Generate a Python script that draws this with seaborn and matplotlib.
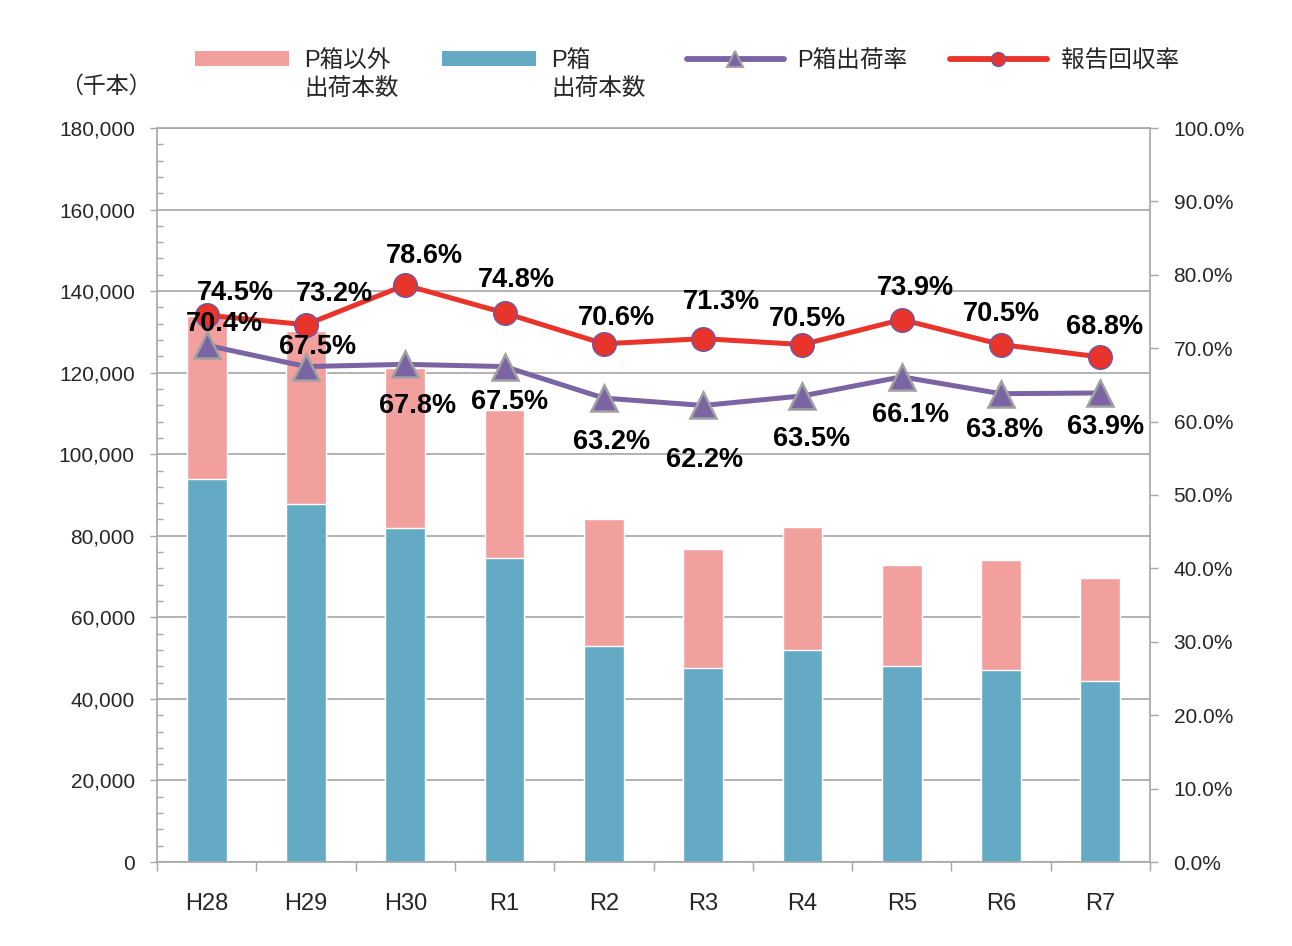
import numpy as np
import pandas as pd
import matplotlib
matplotlib.use('Agg')
import matplotlib.pyplot as plt
import seaborn as sns
from matplotlib.lines import Line2D
from matplotlib.patches import Patch
from matplotlib.ticker import MultipleLocator, FuncFormatter

# data
years = ['H28', 'H29', 'H30', 'R1', 'R2', 'R3', 'R4', 'R5', 'R6', 'R7']
p_box = [93900, 87800, 81900, 74500, 53000, 47600, 52000, 48100, 47100, 44400]        # P箱 出荷本数 (千本)
non_p_box = [40000, 42400, 39200, 36300, 31100, 29200, 30150, 24700, 27000, 25250]    # P箱以外 出荷本数 (千本)
p_box_rate = [70.4, 67.5, 67.8, 67.5, 63.2, 62.2, 63.5, 66.1, 63.8, 63.9]            # P箱出荷率 (%)
return_rate = [74.5, 73.2, 78.6, 74.8, 70.6, 71.3, 70.5, 73.9, 70.5, 68.8]           # 報告回収率 (%)

# label offsets (pixels) for the percentage labels
return_offsets = [(29, 22), (28, 31), (19, 29), (12, 33), (13, 26), (18, 37), (5, 26), (14, 32), (0, 31), (4, 30)]
rate_offsets = [(18, 21), (12, 20), (12, -42), (5, -35), (8, -44), (1, -55), (9, -43), (9, -38), (4, -36), (5, -34)]

pink = '#F2A09E'
blue = '#64AAC4'
purple = '#7A64A3'
red = '#E8342A'
grid_grey = '#A6A6A6'

sns.set_theme(style='white')
plt.rcParams['font.family'] = ['Liberation Sans', 'Noto Sans CJK JP']

df = pd.DataFrame({'year': years, 'p': p_box, 'non': non_p_box})
df['total'] = df['p'] + df['non']

fig = plt.figure(figsize=(12.92, 9.46), dpi=100)
ax = fig.add_axes([157 / 1292, 84 / 946, 993 / 1292, 734 / 946])

# stacked bars: total (pink) behind, P箱 (blue) in front
sns.barplot(data=df, x='year', y='total', color=pink, width=0.4, saturation=1,
            errorbar=None, ax=ax, zorder=2)
sns.barplot(data=df, x='year', y='p', color=blue, width=0.4, saturation=1,
            errorbar=None, ax=ax, zorder=2)

ax.set_ylim(0, 180000)
ax.yaxis.set_major_locator(MultipleLocator(20000))
ax.yaxis.set_minor_locator(MultipleLocator(4000))
ax.yaxis.set_major_formatter(FuncFormatter(lambda v, p: f'{v:,.0f}'))
ax.grid(axis='y', which='major', color=grid_grey, linewidth=1.2, zorder=0)
ax.set_axisbelow(True)
ax.set_xlabel('')
ax.set_ylabel('')

for side in ['left', 'bottom', 'top', 'right']:
    ax.spines[side].set_color(grid_grey)
    ax.spines[side].set_linewidth(1.2)
ax.spines['right'].set_visible(False)

ax.tick_params(axis='y', which='major', direction='out', length=5, width=1, color=grid_grey,
               labelsize=15, pad=11, left=True)
ax.tick_params(axis='y', which='minor', direction='in', length=4, width=1, color=grid_grey, left=True)

n = len(years)
ax.set_xticks(range(n))
ax.set_xticklabels(years)
ax.set_xticks(np.arange(-0.5, n), minor=True)
ax.tick_params(axis='x', which='major', length=0, labelsize=17, pad=22)
ax.tick_params(axis='x', which='minor', direction='out', length=6.5, width=1, color=grid_grey, bottom=True)

# rates on the secondary axis
ax2 = ax.twinx()
x_pos = np.arange(n)
sns.lineplot(x=x_pos, y=np.array(p_box_rate) / 100, ax=ax2, color=purple, linewidth=3.6,
             marker='^', markersize=19, markeredgecolor='#A0A0A0', markeredgewidth=1.8, zorder=3)
sns.lineplot(x=x_pos, y=np.array(return_rate) / 100, ax=ax2, color=red, linewidth=3.6,
             marker='o', markersize=17, markeredgecolor='#6A58A8', markeredgewidth=1, zorder=4)

for i in range(n):
    ax2.annotate(f'{p_box_rate[i]:.1f}%', (x_pos[i], p_box_rate[i] / 100), xytext=rate_offsets[i],
                 textcoords='offset pixels', ha='center', va='center',
                 fontsize=19.5, fontweight='bold', color='black', zorder=5)
    ax2.annotate(f'{return_rate[i]:.1f}%', (x_pos[i], return_rate[i] / 100), xytext=return_offsets[i],
                 textcoords='offset pixels', ha='center', va='center',
                 fontsize=19.5, fontweight='bold', color='black', zorder=5)

ax2.set_ylim(0, 1)
ax2.yaxis.set_major_locator(MultipleLocator(0.1))
ax2.yaxis.set_major_formatter(FuncFormatter(lambda v, p: f'{v * 100:.1f}%'))
ax2.set_ylabel('')
ax2.grid(False)
for side in ['left', 'bottom', 'top']:
    ax2.spines[side].set_visible(False)
ax2.spines['right'].set_color(grid_grey)
ax2.spines['right'].set_linewidth(1.2)
ax2.tick_params(axis='y', which='major', direction='out', length=6, width=1, color=grid_grey,
                labelsize=15, pad=11, right=True)
ax.set_xlim(-0.5, n - 0.5)

# unit label
fig.text(106 / 1292, 1 - 86 / 946, '（千本）', ha='center', va='center', fontsize=16.5)

# legend: one entry each, placed along the top
entries = [
    (Patch(facecolor=pink, edgecolor='none'), 'P箱以外', 195, 4.0, 0.62),
    (Patch(facecolor=blue, edgecolor='none'), 'P箱', 442, 4.0, 0.62),
    (Line2D([], [], color=purple, linewidth=4.2, solid_capstyle='round', marker='^', markersize=12,
            markeredgecolor='#A0A0A0', markeredgewidth=1.5), 'P箱出荷率', 687, 4.1, 0.58),
    (Line2D([], [], color=red, linewidth=4.2, solid_capstyle='round', marker='o', markersize=10,
            markeredgecolor='#6A58A8', markeredgewidth=1), '報告回収率', 950, 4.1, 0.58),
]
legends = []
for handle, label, x_left, hl, pad in entries:
    leg = fig.legend([handle], [label], loc='center left', bbox_to_anchor=(x_left / 1292, 1 - 61 / 946),
                     frameon=False, borderpad=0, borderaxespad=0, fontsize=17,
                     handlelength=hl, handleheight=0.62, handletextpad=pad, numpoints=1)
    legends.append(leg)

fig.canvas.draw()
W, H = fig.get_size_inches() * fig.dpi
for leg in legends[:2]:
    bb = leg.get_texts()[0].get_window_extent()
    fig.text(bb.x0 / W, 1 - 89 / 946, '出荷本数', ha='left', va='center', fontsize=17)

fig.savefig('out.png', dpi=100)
